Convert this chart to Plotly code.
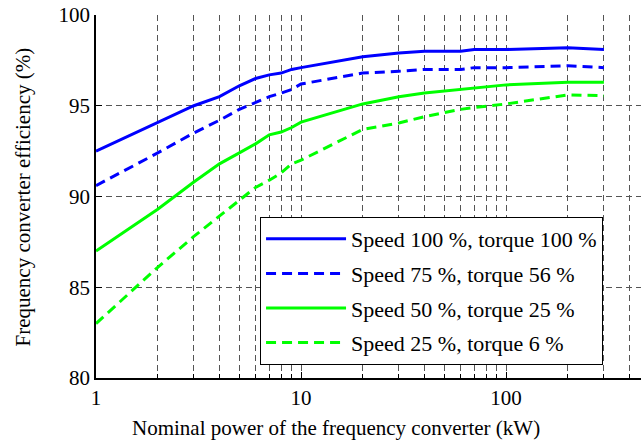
import math
import plotly.graph_objects as go

# Nominal converter power (kW) and efficiency (%) for four operating points
power_kw = [1, 2, 3, 4, 5, 6, 7, 8, 9, 10, 20, 30, 40, 60, 70, 100, 200, 300]

eff_s100_t100 = [92.5, 94.1, 95.0, 95.5, 96.1, 96.5, 96.7, 96.8, 97.0, 97.1,
                 97.7, 97.9, 98.0, 98.0, 98.1, 98.1, 98.2, 98.1]
eff_s75_t56 = [90.6, 92.4, 93.5, 94.2, 94.8, 95.2, 95.5, 95.7, 95.9, 96.2,
               96.8, 96.9, 97.0, 97.0, 97.1, 97.1, 97.2, 97.1]
eff_s50_t25 = [87.0, 89.3, 90.8, 91.8, 92.4, 92.9, 93.4, 93.55, 93.8, 94.1,
               95.1, 95.5, 95.7, 95.9, 96.0, 96.15, 96.3, 96.3]
eff_s25_t6 = [83.0, 86.1, 87.8, 88.9, 89.8, 90.5, 90.9, 91.3, 91.8, 92.0,
              93.7, 94.05, 94.4, 94.8, 94.9, 95.1, 95.6, 95.55]

series_names = ["Speed 100 %, torque 100 %", "Speed 75 %, torque 56 %",
                "Speed 50 %, torque 25 %", "Speed 25 %, torque 6 %"]
series_values = [eff_s100_t100, eff_s75_t56, eff_s50_t25, eff_s25_t6]
series_colors = ["#0000ff", "#0000ff", "#00ff00", "#00ff00"]
series_dash = ["solid", "10px,6px", "solid", "10px,6px"]

y_ticks = [80, 85, 90, 95, 100]
x_ticks = [1, 10, 100]

x_title = "Nominal power of the frequency converter (kW)"
y_title = "Frequency converter efficiency (%)"

SERIF = dict(family="Times New Roman", size=21, color="black")
LEGEND_FONT = dict(family="Times New Roman", size=22, color="black")

fig = go.Figure()
for i, (name, vals, col, dash) in enumerate(zip(series_names, series_values,
                                                  series_colors, series_dash)):
    fig.add_trace(go.Scatter(
        x=power_kw, y=vals, mode="lines", name=name,
        line=dict(color=col, width=3, dash=dash),
        legendgroup=f"g{i}",
    ))

grid = dict(showgrid=True, gridcolor="#555555", griddash="6px,4px", gridwidth=1)

fig.update_layout(
    width=641, height=446,
    margin=dict(l=96, r=0, t=15, b=68),
    paper_bgcolor="white", plot_bgcolor="white",
    showlegend=True,
    legend=dict(
        x=0.301, y=0.4435, xanchor="left", yanchor="top",
        bgcolor="white", bordercolor="black", borderwidth=1,
        font=LEGEND_FONT, itemwidth=80, tracegroupgap=3,
    ),
    xaxis=dict(
        type="log", range=[0, math.log10(455)],
        tickvals=x_ticks, ticktext=[str(v) for v in x_ticks],
        ticks="inside", ticklen=6, tickcolor="black",
        showline=True, linecolor="black", linewidth=1.5,
        minor=dict(dtick="D1", ticks="inside", ticklen=4, tickcolor="black",
                   **grid),
        zeroline=False, tickfont=SERIF, **grid,
    ),
    yaxis=dict(
        range=[80, 100], tickvals=y_ticks,
        ticks="inside", ticklen=6, tickcolor="black",
        showline=True, linecolor="black", linewidth=1.5,
        zeroline=False, tickfont=SERIF, **grid,
    ),
    annotations=[
        dict(text=x_title, xref="paper", yref="paper", x=0.4404, y=-0.1377,
             xanchor="center", yanchor="middle", showarrow=False, font=SERIF),
        dict(text=y_title, xref="paper", yref="paper", x=-0.134, y=0.5,
             xanchor="center", yanchor="middle", textangle=-90,
             showarrow=False, font=SERIF),
    ],
)

fig.write_html("out.html")
